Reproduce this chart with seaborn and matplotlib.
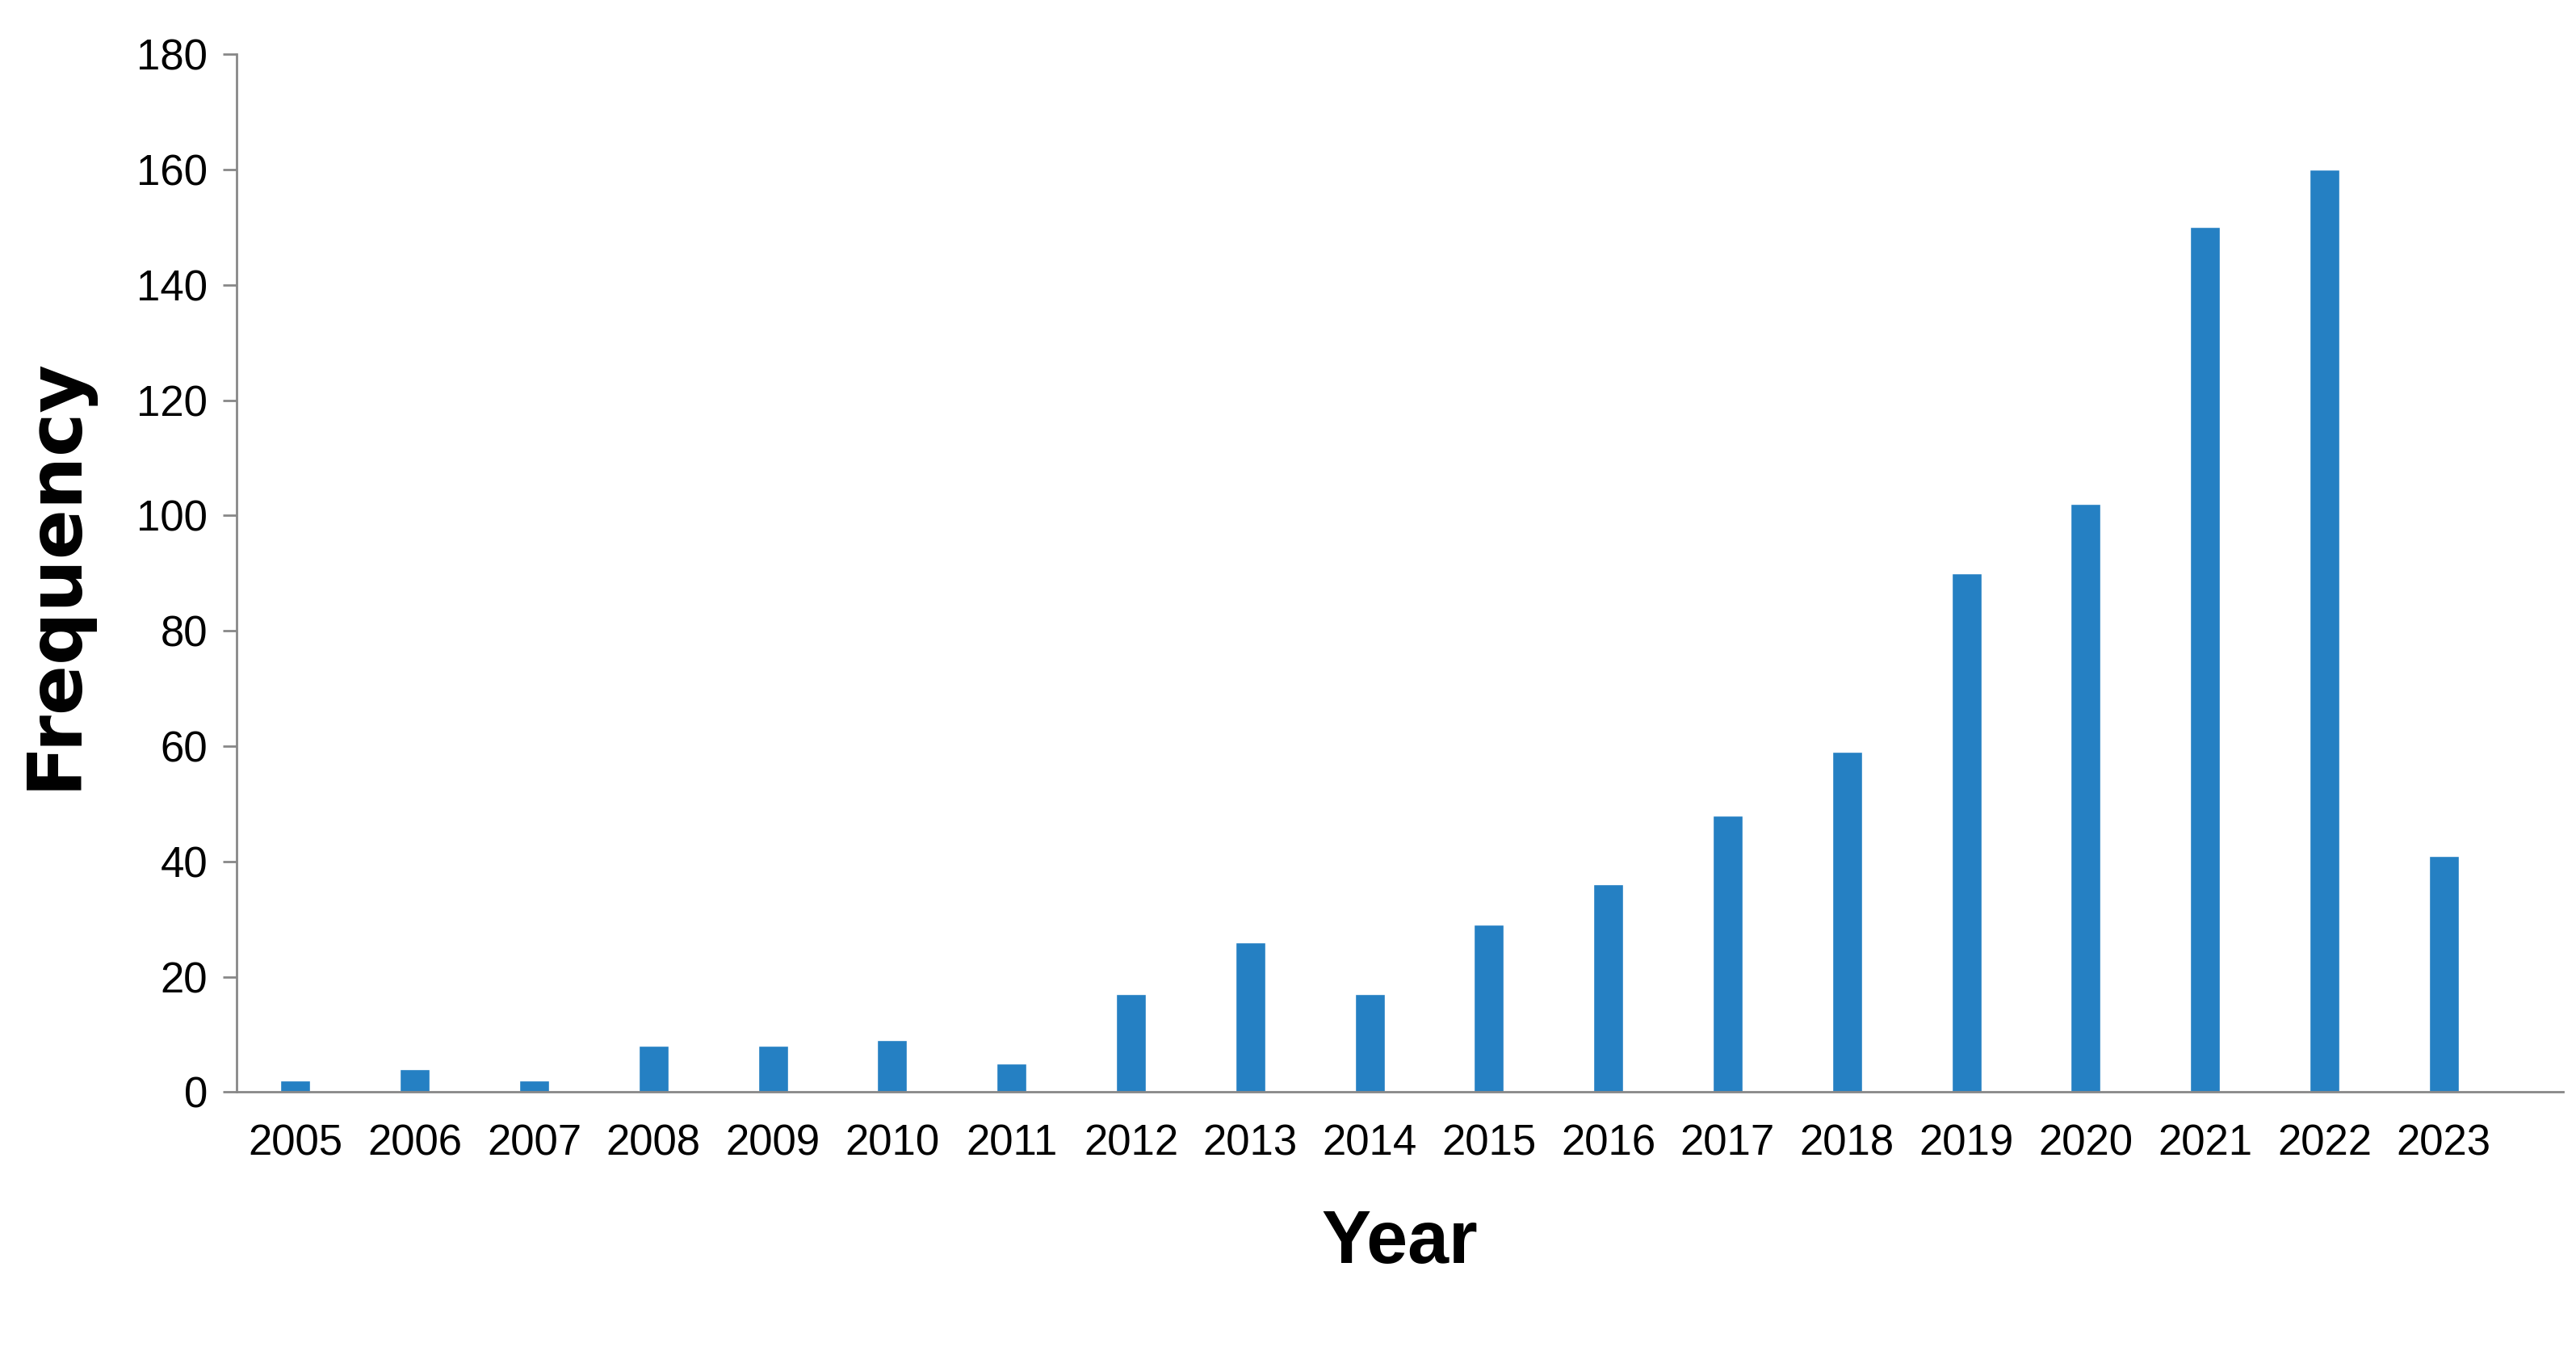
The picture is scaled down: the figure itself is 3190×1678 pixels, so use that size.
import pandas as pd
import matplotlib.pyplot as plt
import seaborn as sns

years = [str(y) for y in range(2005, 2024)]
freq = [2, 4, 2, 8, 8, 9, 5, 17, 26, 17, 29, 36, 48, 59, 90, 102, 150, 160, 41]

df = pd.DataFrame({"Year": years, "Frequency": freq})

sns.set_style("white")
plt.rcParams['font.family'] = ['Liberation Sans', 'DejaVu Sans']
plt.rcParams['text.color'] = 'black'
plt.rcParams['xtick.color'] = 'black'
plt.rcParams['ytick.color'] = 'black'

fig = plt.figure(figsize=(31.9, 16.78), dpi=100)
ax = fig.add_axes([0.092, 0.194, 0.903, 0.766])

sns.barplot(data=df, x="Year", y="Frequency", color="#2580C3", width=0.25, saturation=1, ax=ax)

ax.set_ylim(0, 180)
ax.set_yticks(range(0, 181, 20))
ax.set_xlim(-0.49, 19.0)
ax.tick_params(axis="both", labelsize=38, labelcolor="black")
ax.tick_params(axis="y", length=12, width=2, color="#888888", direction="out", left=True, pad=14)
ax.tick_params(axis="x", length=0, pad=28)
for s in ["top", "right"]:
    ax.spines[s].set_visible(False)
for s in ["left", "bottom"]:
    ax.spines[s].set_color("#888888")
    ax.spines[s].set_linewidth(2)

ax.set_xlabel("Year", fontsize=66, fontweight="bold", labelpad=40, color="black")
ax.set_ylabel("Frequency", fontsize=66, fontweight="bold", labelpad=40, color="black", family=['DejaVu Sans'])

fig.savefig("out.png", dpi=100)
